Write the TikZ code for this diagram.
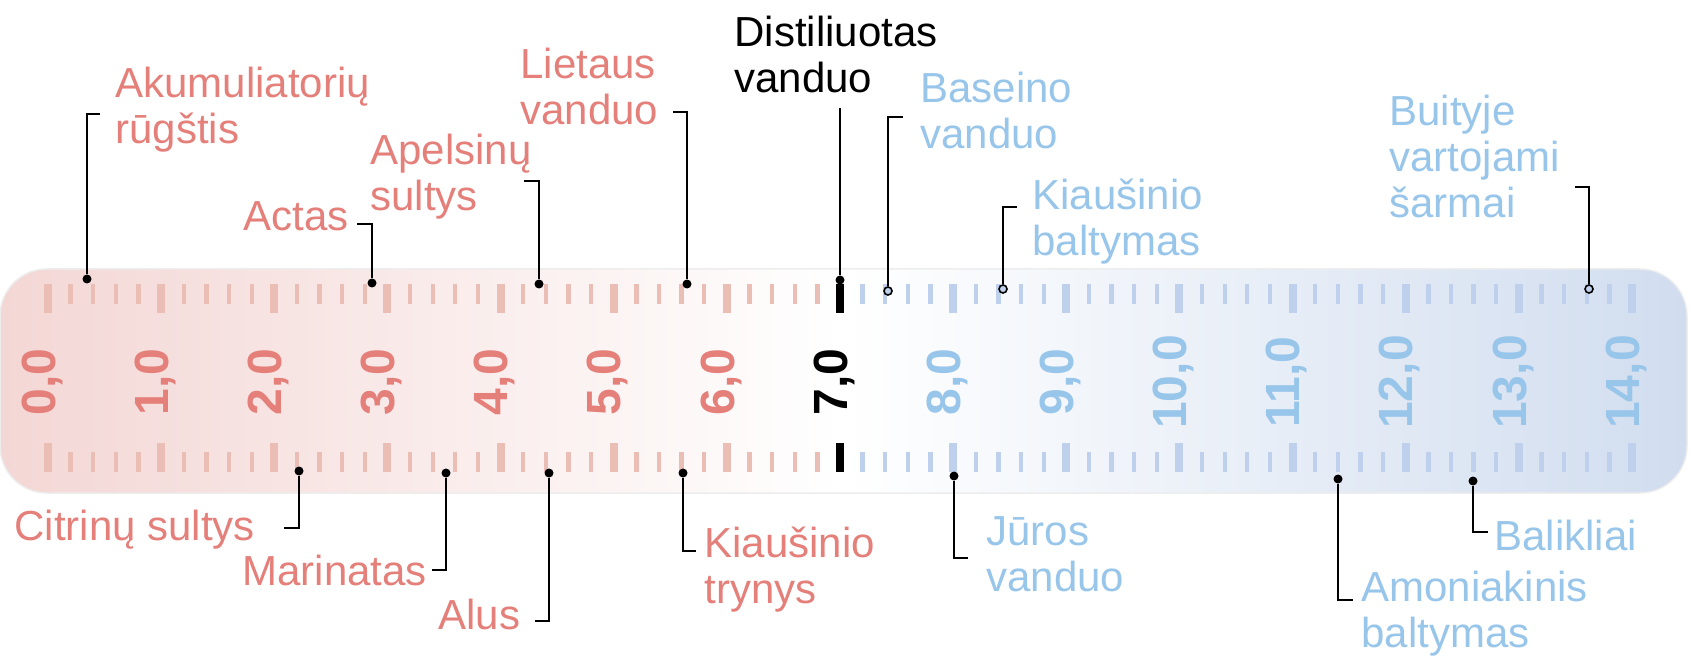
\documentclass[tikz,border=0pt]{standalone}
\usepackage{fontspec}
\setmainfont{Liberation Sans}

\definecolor{phred}{RGB}{228,127,122}
\definecolor{phblue}{RGB}{152,197,234}
\definecolor{tickred}{RGB}{234,190,180}
\definecolor{tickblue}{RGB}{190,208,236}
\definecolor{bandL}{RGB}{243,215,213}
\definecolor{bandR}{RGB}{209,221,239}

\newcommand\lblfont{\fontsize{21pt}{23pt}\selectfont}
\newcommand\numfont{\fontsize{24pt}{24pt}\selectfont\bfseries}

\begin{document}
\begin{tikzpicture}[x=0.5pt, y=-0.5pt,
    lbl/.style={font=\lblfont, align=left, inner sep=0pt, anchor=north west},
    acid/.style={lbl, text=phred},
    alkali/.style={lbl, text=phblue},
    pin/.style={circle, fill=black, inner sep=0pt, minimum size=4.5pt},
    ring/.style={circle, draw=black, fill=tickblue, line width=0.8pt, inner sep=0pt, minimum size=4pt},
    lead/.style={line width=1pt},
    num/.style={rotate=90, font=\numfont, inner sep=0pt, text height=0.72em, text depth=0pt}]
  \useasboundingbox (0,0) rectangle (1691,662);

  % pH band
  \shadedraw[draw=black!7, line width=0.75pt, rounded corners=23.5pt,
    left color=bandL, right color=bandR, middle color=white] (0,269) rectangle (1687,493);

  % Scale ticks
  \foreach \i in {0,...,70}{
    \pgfmathsetmacro\tx{48+22.62857*\i}
    \pgfmathtruncatemacro\ismajor{mod(\i,5)==0 ? 1 : 0}
    \ifnum\i<35 \def\tc{tickred}\else\def\tc{tickblue}\fi
    \ifnum\i=35 \def\tc{black}\fi
    \ifnum\ismajor=1
      \draw[color=\tc, line width=4pt] (\tx,284) -- (\tx,313);
      \draw[color=\tc, line width=4pt] (\tx,443) -- (\tx,472);
    \else
      \draw[color=\tc, line width=2.15pt] (\tx,284) -- (\tx,304);
      \draw[color=\tc, line width=2.15pt] (\tx,452) -- (\tx,472);
    \fi
  }

  % Scale numbers
  \foreach \n in {0,...,14}{
    \ifnum\n<7 \def\nc{phred}\else\def\nc{phblue}\fi
    \ifnum\n=7 \def\nc{black}\fi
    \node[num, text=\nc] (num\n) at ({48+113.143*\n},382) {\n,0};
  }

  % Dots on the scale
  \node[pin] (akuP) at (87,279) {};
  \node[pin] (actP) at (372,283) {};
  \node[pin] (apeP) at (539,284) {};
  \node[pin] (lieP) at (687,284) {};
  \node[pin] (disP) at (840,280) {};
  \node[ring] (basP) at (888,291) {};
  \node[ring] (kbaP) at (1003,289) {};
  \node[ring] (buiP) at (1589,289) {};
  \node[pin] (citP) at (299,471) {};
  \node[pin] (marP) at (446,473) {};
  \node[pin] (aluP) at (549,473) {};
  \node[pin] (ktrP) at (683,473) {};
  \node[pin] (jurP) at (954,476) {};
  \node[pin] (amoP) at (1338,479) {};
  \node[pin] (balP) at (1473,481) {};

  % Lead ends
  \coordinate (akuE) at (100,114);
  \coordinate (actE) at (357,224);
  \coordinate (apeE) at (524,181);
  \coordinate (lieE) at (673,112);
  \coordinate (disE) at (840,108);
  \coordinate (basE) at (903,117);
  \coordinate (kbaE) at (1017,207);
  \coordinate (buiE) at (1575,187);
  \coordinate (citE) at (284,528);
  \coordinate (marE) at (432,570);
  \coordinate (aluE) at (535,621);
  \coordinate (ktrE) at (696,551);
  \coordinate (jurE) at (968,558);
  \coordinate (amoE) at (1353,600);
  \coordinate (balE) at (1488,532);

  % Leads
  \draw[lead] (akuP) |- (akuE);
  \draw[lead] (actP) |- (actE);
  \draw[lead] (apeP) |- (apeE);
  \draw[lead] (lieP) |- (lieE);
  \draw[lead] (disP) -- (disE);
  \draw[lead] (basP) |- (basE);
  \draw[lead] (kbaP) |- (kbaE);
  \draw[lead] (buiP) |- (buiE);
  \draw[lead] (citP) |- (citE);
  \draw[lead] (marP) |- (marE);
  \draw[lead] (aluP) |- (aluE);
  \draw[lead] (ktrP) |- (ktrE);
  \draw[lead] (jurP) |- (jurE);
  \draw[lead] (amoP) |- (amoE);
  \draw[lead] (balP) |- (balE);

  % Labels
  \node[acid] (aku) at (115,67) {Akumuliatorių\\rūgštis};
  \node[acid] (act) at (243,201) {Actas};
  \node[acid] (ape) at (370,134) {Apelsinų\\sultys};
  \node[acid] (lie) at (520,48) {Lietaus\\vanduo};
  \node[lbl] (dis) at (734,16) {Distiliuotas\\vanduo};
  \node[alkali] (bas) at (920,72) {Baseino\\vanduo};
  \node[alkali] (kba) at (1032,179) {Kiaušinio\\baltymas};
  \node[alkali] (bui) at (1389,95) {Buityje\\vartojami\\šarmai};
  \node[acid] (cit) at (14,510) {Citrinų sultys};
  \node[acid] (mar) at (242,555) {Marinatas};
  \node[acid] (alu) at (438,599) {Alus};
  \node[acid] (ktr) at (704,527) {Kiaušinio\\trynys};
  \node[alkali] (jur) at (986,516) {Jūros\\vanduo};
  \node[alkali] (amo) at (1361,571) {Amoniakinis\\baltymas};
  \node[alkali] (bal) at (1494,520) {Balikliai};
\end{tikzpicture}
\end{document}
